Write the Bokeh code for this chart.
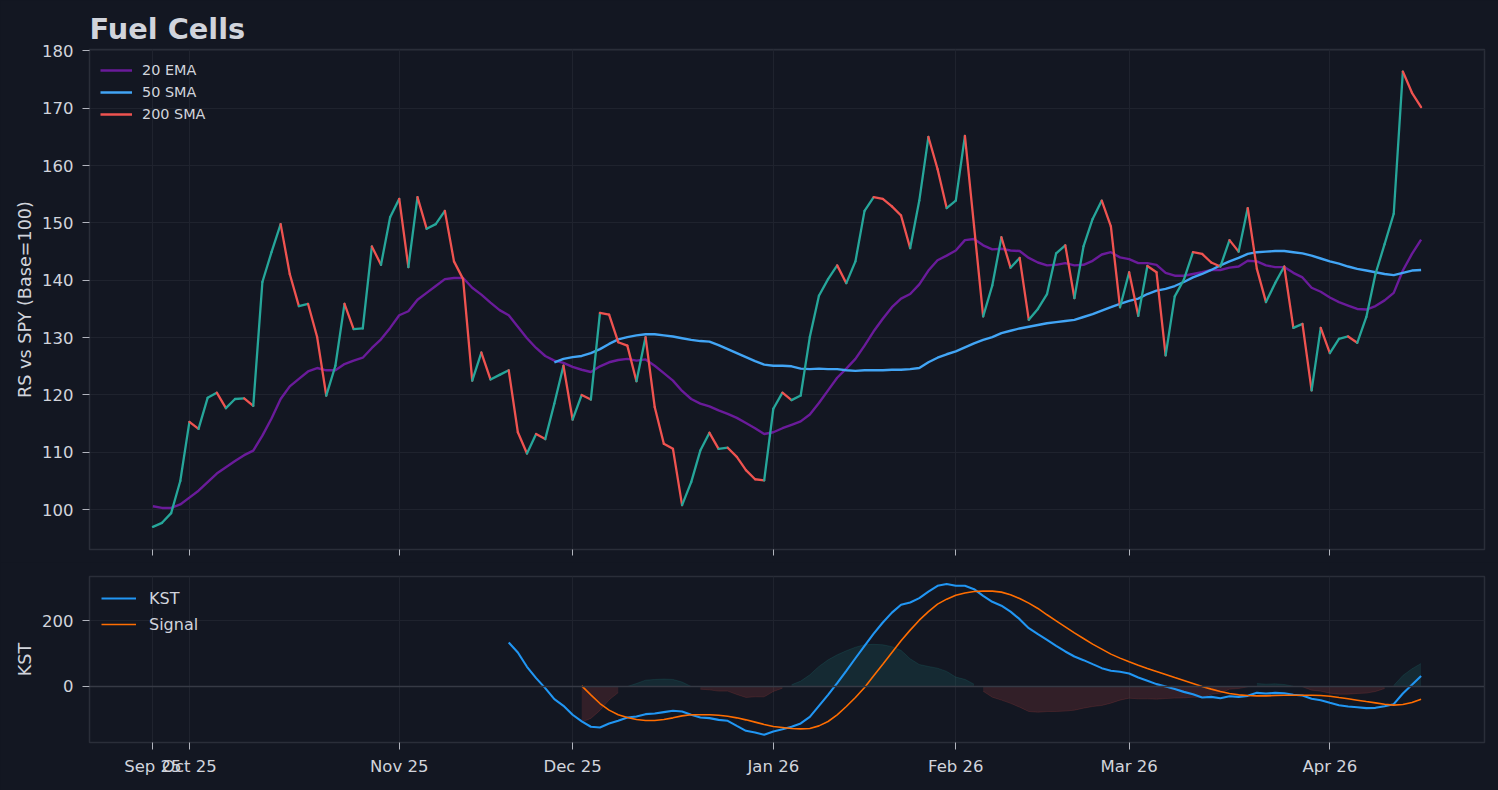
from bokeh.plotting import figure
from bokeh.models import (Range1d, FixedTicker, SingleIntervalTicker, Span,
                          Legend, LegendItem, ColumnDataSource)
from bokeh.layouts import column
from bokeh.embed import file_html
from bokeh.resources import INLINE

# ---------------- data ----------------
tick_idx = [0, 4, 27, 46, 68, 88, 107, 129]
tick_labels = ["Sep 25", "Oct 25", "Nov 25", "Dec 25", "Jan 26", "Feb 26", "Mar 26", "Apr 26"]

rs = [97.0, 97.7, 99.4, 105.0, 115.3, 114.1, 119.5, 120.4, 117.7, 119.3, 119.4, 118.1,
      139.7, 144.9, 149.8, 141.1, 135.5, 135.9, 130.1, 119.9, 125.1, 135.9, 131.5, 131.6,
      145.9, 142.7, 151.0, 154.2, 142.3, 154.5, 149.0, 149.8, 152.1, 143.3, 140.2, 122.5,
      127.4, 122.7, 123.5, 124.3, 113.5, 109.8, 113.2, 112.3, 118.5, 125.1, 115.7, 120.0,
      119.2, 134.3, 134.0, 129.2, 128.6, 122.4, 130.1, 117.9, 111.5, 110.6, 100.8, 104.8,
      110.3, 113.4, 110.6, 110.8, 109.2, 106.9, 105.3, 105.1, 117.6, 120.4, 119.1, 119.9,
      130.1, 137.3, 140.2, 142.6, 139.5, 143.3, 152.1, 154.5, 154.2, 152.9, 151.3, 145.6,
      153.9, 165.0, 159.4, 152.6, 153.9, 165.2, 149.5, 133.7, 139.1, 147.5, 142.2, 143.9,
      133.1, 135.0, 137.6, 144.7, 146.1, 136.9, 145.9, 150.7, 153.9, 149.4, 135.3, 141.4,
      133.8, 142.5, 141.4, 126.9, 137.2, 140.1, 144.9, 144.6, 143.1, 142.4, 147.0, 145.0,
      152.6, 142.0, 136.2, 139.5, 142.4, 131.7, 132.4, 120.8, 131.7, 127.3, 129.8, 130.2,
      129.1, 133.6, 141.1, 146.3, 151.6, 176.4, 172.7, 170.2]

ema20 = [100.6, 100.3, 100.3, 100.9, 102.1, 103.3, 104.8, 106.3, 107.4, 108.5, 109.5, 110.3,
         112.9, 115.9, 119.3, 121.5, 122.8, 124.1, 124.7, 124.3, 124.3, 125.4, 126.0, 126.5,
         128.2, 129.7, 131.7, 133.9, 134.6, 136.6, 137.8, 139.0, 140.2, 140.4, 140.4, 138.7,
         137.5, 136.1, 134.8, 133.9, 131.9, 129.9, 128.2, 126.8, 126.0, 125.6, 124.9, 124.4,
         124.0, 125.0, 125.7, 126.1, 126.3, 126.0, 126.2, 125.1, 123.8, 122.5, 120.7, 119.3,
         118.5, 118.0, 117.3, 116.7, 116.0, 115.1, 114.2, 113.2, 113.5, 114.2, 114.8, 115.4,
         116.6, 118.6, 120.8, 123.0, 124.6, 126.3, 128.6, 131.1, 133.3, 135.3, 136.8, 137.6,
         139.3, 141.7, 143.5, 144.3, 145.2, 147.0, 147.2, 146.1, 145.4, 145.5, 145.2, 145.1,
         143.9, 143.1, 142.6, 142.7, 143.0, 142.6, 142.7, 143.4, 144.5, 144.9, 144.0, 143.7,
         143.0, 143.0, 142.7, 141.3, 140.8, 140.8, 141.1, 141.4, 141.8, 141.8, 142.2, 142.4,
         143.4, 143.3, 142.6, 142.3, 142.3, 141.3, 140.5, 138.7, 138.0, 137.0, 136.2, 135.6,
         135.0, 134.9, 135.5, 136.5, 137.8, 141.7, 144.6, 147.1]

sma50_start = 44
sma50 = [125.7, 126.3, 126.6, 126.8, 127.3, 128.0, 128.9, 129.7, 130.1, 130.4, 130.6, 130.6,
         130.4, 130.2, 129.9, 129.6, 129.4, 129.3, 128.7, 128.0, 127.3, 126.6, 125.9, 125.3,
         125.1, 125.1, 125.0, 124.6, 124.5, 124.6, 124.5, 124.5, 124.3, 124.2, 124.3, 124.3,
         124.3, 124.4, 124.4, 124.5, 124.7, 125.7, 126.5, 127.1, 127.6, 128.3, 129.0, 129.6,
         130.1, 130.8, 131.2, 131.6, 131.9, 132.2, 132.5, 132.7, 132.9, 133.1, 133.6, 134.1,
         134.7, 135.3, 135.9, 136.4, 136.8, 137.6, 138.2, 138.5, 139.0, 139.7, 140.5, 141.1,
         141.8, 142.6, 143.3, 143.9, 144.6, 144.9, 145.0, 145.1, 145.1, 144.9, 144.7, 144.3,
         143.8, 143.3, 142.9, 142.4, 142.0, 141.7, 141.4, 141.1, 140.9, 141.3, 141.7, 141.8]

# 200 SMA: not enough history, so no value is visible (legend entry only)
sma200 = [float("nan")] * len(rs)

kst_start = 39
kst = [134, 103.6, 60, 25.4, -5, -38.6, -58.9, -86, -106.5, -122.7, -124.8, -112.6,
       -104.6, -94.3, -91.5, -84.3, -82.2, -78, -74, -76, -86, -94.3, -96.3, -101.6,
       -104.6, -119.9, -135, -140, -147.3, -137, -130, -122.8, -112.6, -92.5, -58.9, -25.5,
       10, 47.8, 86, 124, 161, 195, 225, 249, 256, 269, 289, 306.7,
       312, 306.7, 306.7, 296.5, 276, 258, 246, 228, 205, 177.7, 159.4, 142,
       124, 106.7, 91.4, 80.2, 68, 55.9, 47.8, 44.8, 39.6, 27.4, 17.4, 7.2,
       0, -8, -16.4, -23.5, -33.6, -31.6, -35.6, -29.5, -31.6, -28.5, -19.4, -21.4,
       -19.4, -20.4, -25.4, -27.5, -37.6, -41.7, -49.8, -56.9, -61, -63, -66, -65,
       -60, -53.9, -21.4, 5, 31.6]

signal_start = 47
signal = [2, -25.5, -51.9, -72, -86, -94.3, -100.6, -103.6, -103.6, -100.6, -95.5, -89.5,
          -86, -86, -86, -87.5, -90.5, -95.5, -101.6, -108.6, -115.7, -121.8, -124.8, -128,
          -129, -128, -120, -106.6, -86.4, -61, -33.6, -3, 32.6, 68, 103.6, 139,
          171.7, 202, 228, 251, 266, 278, 285, 289.4, 290.5, 290.5, 287.4, 279.3,
          268, 253.9, 237.7, 218.4, 200, 181.7, 163.5, 146.2, 129, 113.8, 98.6, 86.4,
          75.2, 65, 55, 45.8, 36.7, 27.4, 18.4, 9.2, 0, -8, -15.3, -21.4,
          -25.4, -27.5, -28.5, -28.5, -27.5, -26.5, -26.5, -26.5, -26.5, -27.5, -29.5, -33.6,
          -37.6, -41.7, -45.8, -49.8, -53.9, -56.9, -54.8, -48.8, -38.6]

# ---------------- style ----------------
BG = "#131722"
TXT = "#d1d4dc"
GRID = "#1f232e"
SPINE = "#2a2e39"
TICK = "#b2b5be"
UP = "#26a69a"
DOWN = "#ef5350"
EMA_C = "#6a1b9a"
SMA_C = "#42a5f5"
KST_C = "#2196f3"
SIG_C = "#ff6d00"
FONT = "DejaVu Sans"

n = len(rs)
idx = list(range(n))
x_range = Range1d(-6.95, 145.95)


def style(p):
    for ax in (p.xaxis[0], p.yaxis[0]):
        ax.axis_line_color = None
        ax.major_tick_line_color = TICK
        ax.major_tick_line_width = 1
        ax.major_tick_out = 7
        ax.major_tick_in = 0
        ax.minor_tick_line_color = None
        ax.major_label_text_color = TXT
        ax.major_label_text_font = FONT
        ax.major_label_text_font_size = "16.5px"
        ax.major_label_standoff = 9
        ax.axis_label_text_color = TXT
        ax.axis_label_text_font = FONT
        ax.axis_label_text_font_size = "17.6px"
        ax.axis_label_text_font_style = "normal"
        ax.axis_label_standoff = 4
    p.xgrid.grid_line_color = GRID
    p.ygrid.grid_line_color = GRID
    p.outline_line_color = SPINE
    p.outline_line_width = 1.5


# ---------------- top panel ----------------
top = figure(width=1498, height=562, output_backend="svg", toolbar_location=None,
             x_range=x_range, y_range=Range1d(93.05, 180.25),
             min_border_left=89, min_border_right=14, min_border_top=49, min_border_bottom=13,
             background_fill_color=BG, border_fill_color=BG)
style(top)
top.title.text = "Fuel Cells"
top.title.text_font = FONT
top.title.text_font_size = "28.8px"
top.title.text_font_style = "bold"
top.title.text_color = TXT
top.title.align = "left"
top.title.standoff = 7
top.yaxis.axis_label = "RS vs SPY (Base=100)"
top.yaxis.ticker = SingleIntervalTicker(interval=10)
top.xaxis.ticker = FixedTicker(ticks=tick_idx)
top.xaxis.major_label_overrides = {t: "" for t in tick_idx}
top.xaxis.major_label_text_font_size = "0px"
top.xaxis.major_label_standoff = 0
top.xaxis.major_tick_out = 6

r_ema = top.line(idx, ema20, line_color=EMA_C, line_width=2.4)
r_sma = top.line(list(range(sma50_start, sma50_start + len(sma50))), sma50,
                 line_color=SMA_C, line_width=2.4)
r_200 = top.line(idx, sma200, line_color=DOWN, line_width=2.4)

seg = ColumnDataSource(dict(
    x0=idx[:-1], y0=rs[:-1], x1=idx[1:], y1=rs[1:],
    c=[UP if b >= a else DOWN for a, b in zip(rs[:-1], rs[1:])]))
top.segment(x0="x0", y0="y0", x1="x1", y1="y1", line_color="c", line_width=2.3,
            line_cap="round", source=seg)

leg1 = Legend(items=[LegendItem(label="20 EMA", renderers=[r_ema]),
                     LegendItem(label="50 SMA", renderers=[r_sma]),
                     LegendItem(label="200 SMA", renderers=[r_200])],
              location="top_left", margin=11, padding=11, spacing=2,
              glyph_width=32, glyph_height=20, label_height=20, label_standoff=10,
              label_text_font=FONT, label_text_font_size="14.4px", label_text_color=TXT,
              background_fill_alpha=0, border_line_color=None)
top.add_layout(leg1)

# ---------------- bottom panel ----------------
bot = figure(width=1498, height=228, output_backend="svg", toolbar_location=None,
             x_range=x_range, y_range=Range1d(-170.6, 335),
             min_border_left=89, min_border_right=14, min_border_top=14, min_border_bottom=48,
             background_fill_color=BG, border_fill_color=BG)
style(bot)
bot.yaxis.axis_label = "KST"
bot.yaxis.ticker = FixedTicker(ticks=[0, 200])
bot.xaxis.ticker = FixedTicker(ticks=tick_idx)
bot.xaxis.major_label_overrides = {t: l for t, l in zip(tick_idx, tick_labels)}
bot.xaxis.major_label_standoff = 7

# histogram (KST - Signal) shading
hx = list(range(signal_start, n))
hist = [kst[i - kst_start] - signal[i - signal_start] for i in hx]
runs = []
cur = [hx[0]]
for j in range(1, len(hx)):
    if (hist[j] >= 0) == (hist[j - 1] >= 0):
        cur.append(hx[j])
    else:
        runs.append(cur)
        cur = [hx[j]]
runs.append(cur)
for run in runs:
    if len(run) < 2:
        continue
    hv = [hist[i - signal_start] for i in run]
    col = UP if hv[0] >= 0 else DOWN
    bot.varea(x=run, y1=[0] * len(run), y2=hv, fill_color=col, fill_alpha=0.14)
    bot.line(run, hv, line_color=col, line_alpha=0.14, line_width=1)

bot.add_layout(Span(location=0, dimension="width", line_color="#363a45", line_width=1.5))

r_kst = bot.line(list(range(kst_start, kst_start + len(kst))), kst, line_color=KST_C, line_width=2.1)
r_sig = bot.line(list(range(signal_start, signal_start + len(signal))), signal,
                 line_color=SIG_C, line_width=1.6)

leg2 = Legend(items=[LegendItem(label="KST", renderers=[r_kst]),
                     LegendItem(label="Signal", renderers=[r_sig])],
              location="top_left", margin=12, padding=13, spacing=6,
              glyph_width=35, glyph_height=20, label_height=20, label_standoff=13,
              label_text_font=FONT, label_text_font_size="16px", label_text_color=TXT,
              background_fill_alpha=0, border_line_color=None)
bot.add_layout(leg2)

layout = column(top, bot, spacing=0)
html = file_html(layout, INLINE, title="Fuel Cells")
html = html.replace("</head>", "<style>html, body { background-color: #131722; }</style></head>", 1)
open("out.html", "w").write(html)
